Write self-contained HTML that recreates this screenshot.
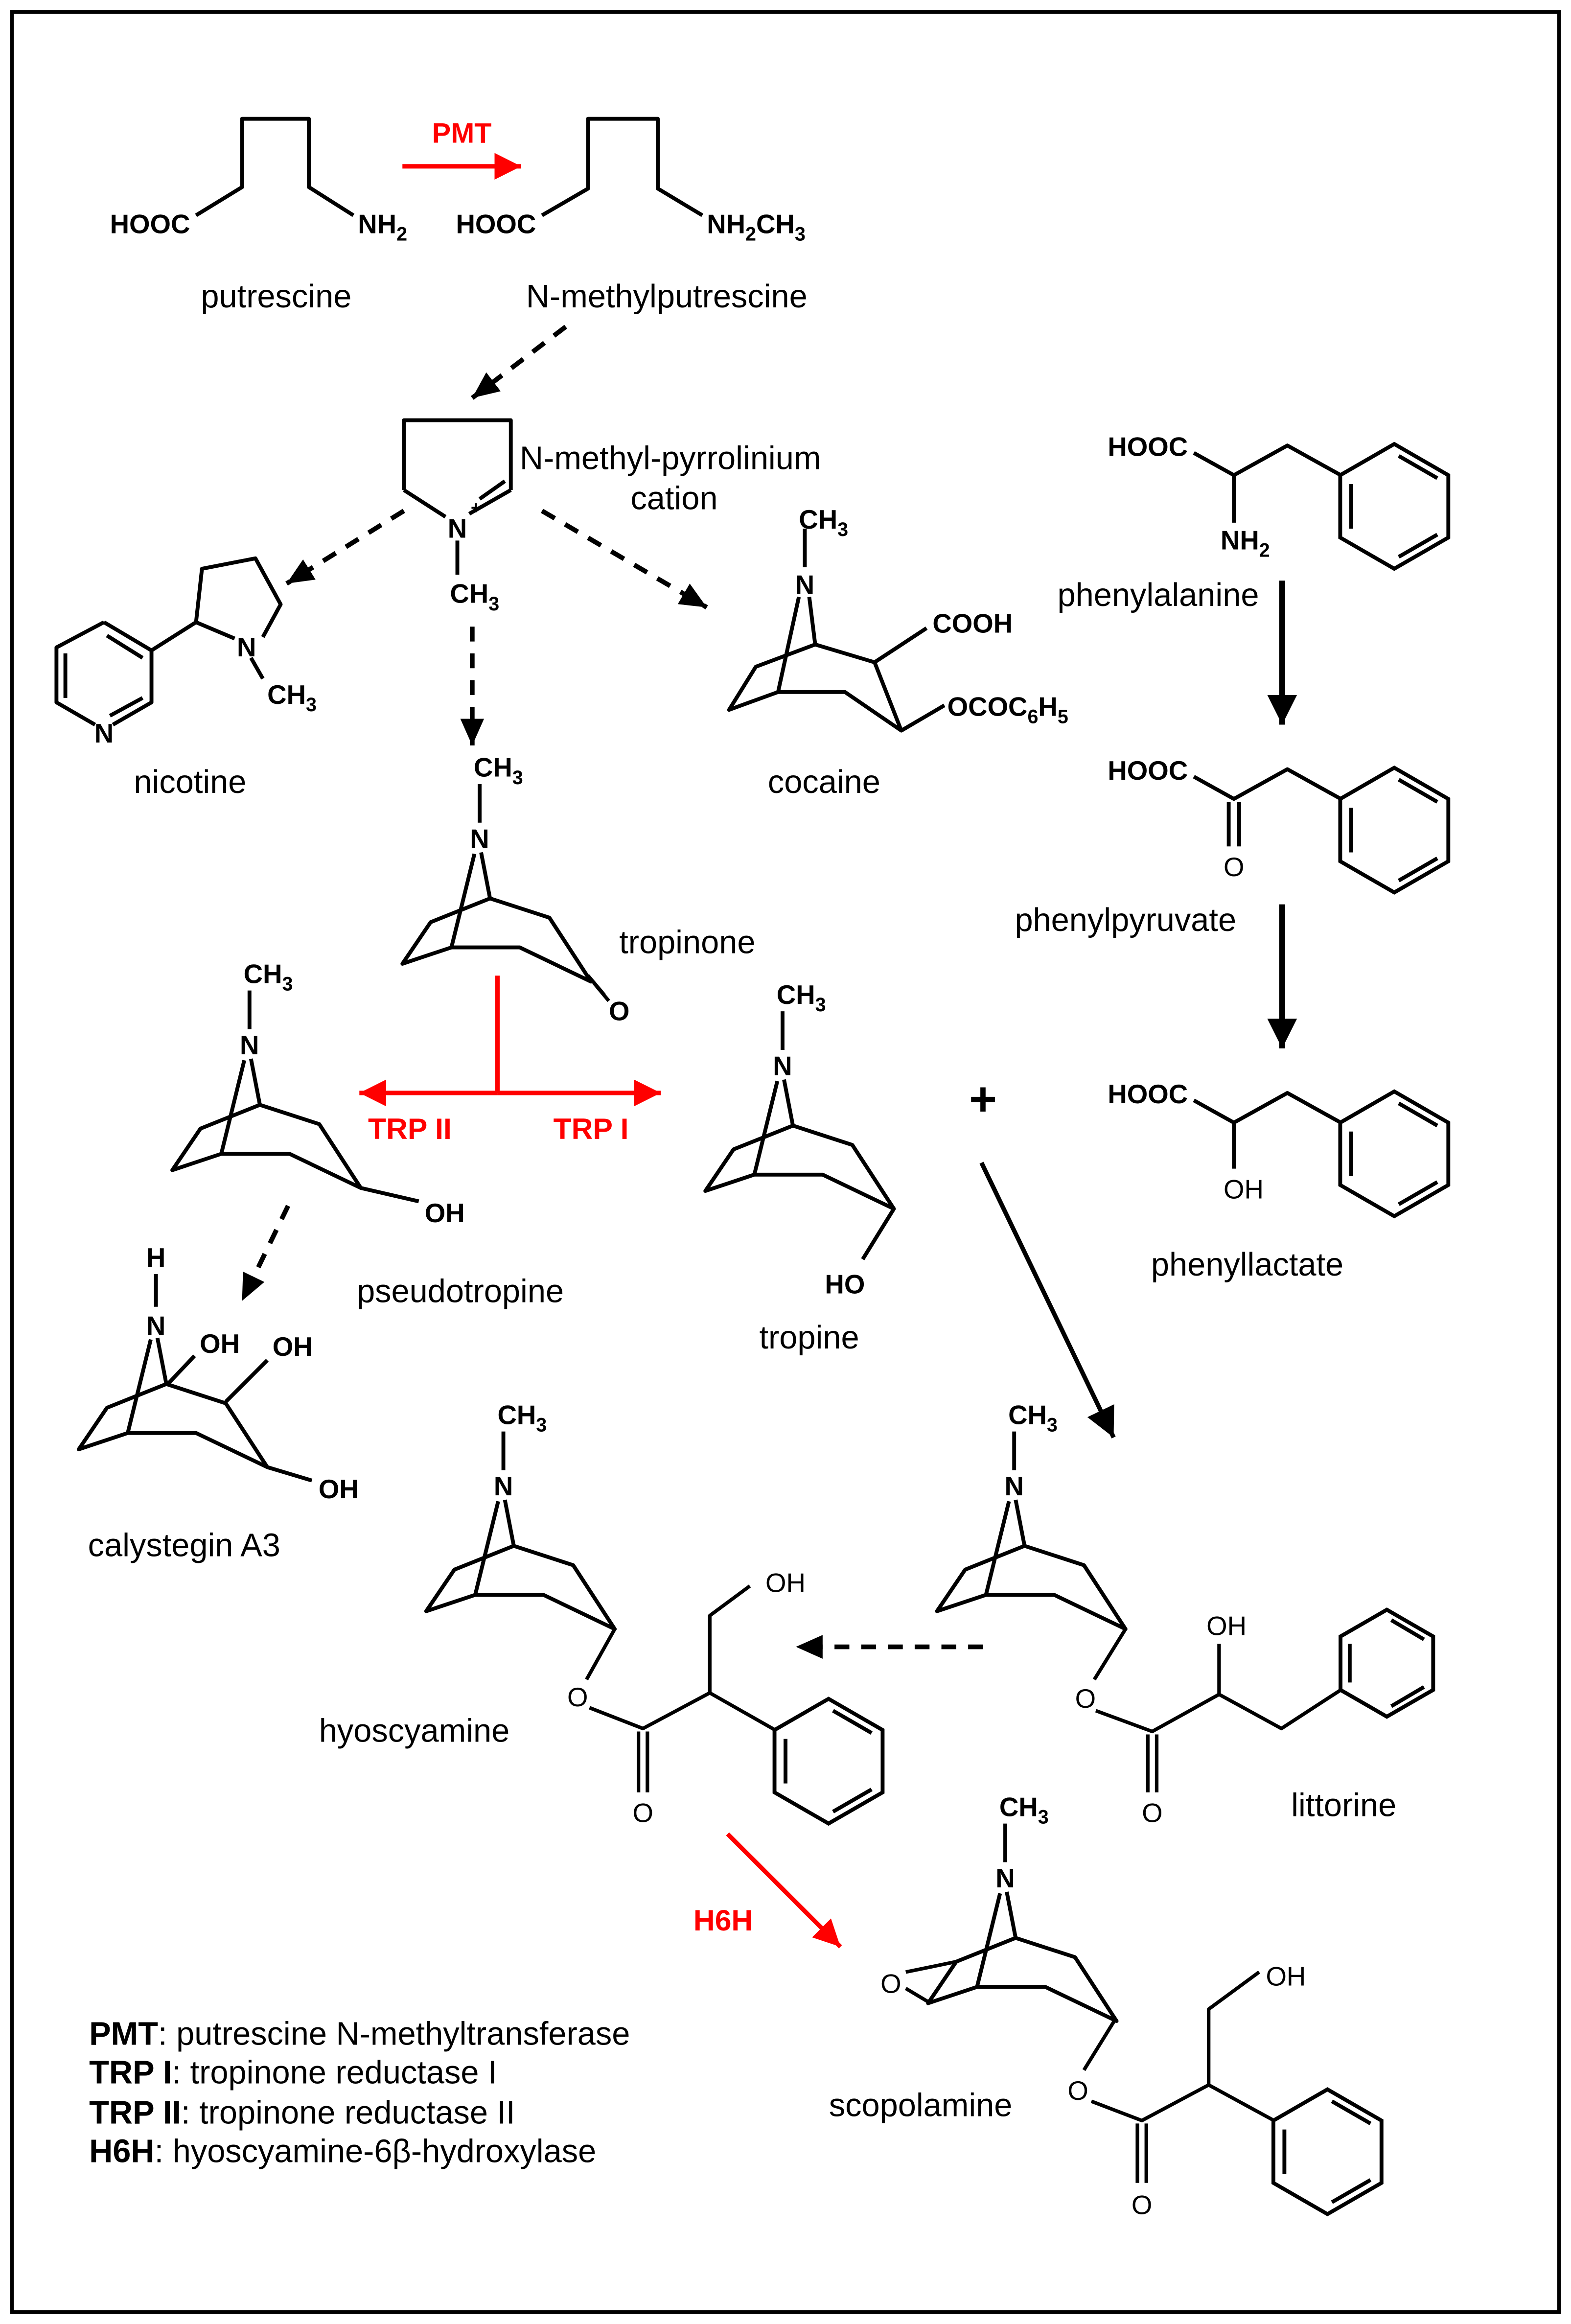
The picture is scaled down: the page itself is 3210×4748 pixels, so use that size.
<!DOCTYPE html>
<html><head><meta charset="utf-8"><style>
html,body{margin:0;padding:0;background:#fff;}
svg{display:block;}
text{font-family:"Liberation Sans",Arial,sans-serif;}
.a{font-weight:bold;font-size:18px;}
.l{font-size:22px;}
.g{font-size:22px;}
</style></head><body>
<svg width="3210" height="4748" viewBox="0 0 1058 1565" xmlns="http://www.w3.org/2000/svg">
<defs>
<marker id="ah" markerUnits="userSpaceOnUse" markerWidth="20" markerHeight="16" refX="18" refY="8" orient="auto"><path d="M0,0 L18,8 L0,16 z" fill="#000"/></marker>
<marker id="ahb" markerUnits="userSpaceOnUse" markerWidth="22" markerHeight="20" refX="20" refY="10" orient="auto"><path d="M0,0 L20,10 L0,20 z" fill="#000"/></marker>
<marker id="ahr" markerUnits="userSpaceOnUse" markerWidth="20" markerHeight="18" refX="18" refY="9" orient="auto"><path d="M0,0 L18,9 L0,18 z" fill="#f00"/></marker>
<g id="b42" fill="none" stroke="#000" stroke-width="2.6"><path d="M0,-42 L36.4,-21 L36.4,21 L0,42 L-36.4,21 L-36.4,-21 Z"/><path d="M3,-34 L29,-19 M-29,-15 L-29,15 M3,34 L29,19"/></g>
<g id="b36" fill="none" stroke="#000" stroke-width="2.6"><path d="M0,-36 L31.2,-18 L31.2,18 L0,36 L-31.2,18 L-31.2,-18 Z"/><path d="M3,-29 L25,-16 M-25,-13 L-25,13 M3,29 L25,16"/></g>
<g id="tr" fill="none" stroke="#000" stroke-width="2.6" stroke-linejoin="round"><path d="M-3.5,10 L-19,73 M1,9 L7,40 L-33,56 L-52,84 L-19,73 L27,73 L75,96 L47,53 L7,40"/></g>
<g id="trme"><use href="#tr"/><path d="M0,-11 L0,-37" stroke="#000" stroke-width="2.6"/><text class="a" x="0" y="6" text-anchor="middle">N</text><text class="a" x="-4" y="-42">CH<tspan font-size="13" dy="5">3</tspan></text></g>
</defs>
<rect x="8" y="8" width="1042" height="1549" fill="none" stroke="#000" stroke-width="2.5"/>
<g fill="none" stroke="#000" stroke-width="2.6" stroke-linejoin="round">
<path d="M132,145 L163,126 L163,80 L208,80 L208,126 L238,145"/>
<path d="M365,145 L396,127 L396,80 L443,80 L443,127 L473,145"/>
</g>
<text class="a" x="101" y="157" text-anchor="middle">HOOC</text>
<text class="a" x="241" y="157">NH<tspan font-size="13" dy="5">2</tspan></text>
<text class="a" x="334" y="157" text-anchor="middle">HOOC</text>
<text class="a" x="476" y="157">NH<tspan font-size="13" dy="5">2</tspan><tspan dy="-5">CH</tspan><tspan font-size="13" dy="5">3</tspan></text>
<line x1="271" y1="112" x2="351" y2="112" stroke="#f00" stroke-width="3" marker-end="url(#ahr)"/>
<text x="311" y="96" text-anchor="middle" font-weight="bold" font-size="19" fill="#f00">PMT</text>
<text class="l" x="186" y="207" text-anchor="middle">putrescine</text>
<text class="l" x="449" y="207" text-anchor="middle">N-methylputrescine</text>
<g stroke="#000" stroke-width="3.2" stroke-dasharray="10,8" fill="none">
<line x1="381" y1="220" x2="318" y2="268" marker-end="url(#ah)"/>
<line x1="272" y1="344" x2="193" y2="393" marker-end="url(#ah)"/>
<line x1="318" y1="422" x2="318" y2="502" marker-end="url(#ah)"/>
<line x1="365" y1="344" x2="476" y2="409" marker-end="url(#ah)"/>
<line x1="194" y1="812" x2="163" y2="876" marker-end="url(#ah)"/>
<line x1="662" y1="1109" x2="536" y2="1109" marker-end="url(#ah)"/>
</g>
<g fill="none" stroke="#000" stroke-width="2.6" stroke-linejoin="round">
<path d="M272,330 L272,283 L344,283 L344,330 M272,330 L300,348 M344,330 L316,346 M340,324 L323,336 M308,364 L308,387"/>
</g>
<text class="a" x="308" y="362" text-anchor="middle">N</text>
<text x="317" y="346" font-size="12" font-weight="bold">+</text>
<text class="a" x="303" y="406">CH<tspan font-size="13" dy="5">3</tspan></text>
<text class="l" x="350" y="316">N-methyl-pyrrolinium</text>
<text class="l" x="454" y="343" text-anchor="middle">cation</text>
<g fill="none" stroke="#000" stroke-width="2.6" stroke-linejoin="round">
<path d="M70,419 L102,438 L102,473 L76,488 M64,488 L38,473 L38,436 L70,419"/>
<path d="M72,428 L96,443 M44,440 L44,470 M96,470 L74,482"/>
<path d="M102,438 L132,419 L136,383 L172,376 L189,407 L177,429 M132,419 L158,430 M169,443 L177,457"/>
</g>
<text class="a" x="70" y="500" text-anchor="middle">N</text>
<text class="a" x="166" y="442" text-anchor="middle">N</text>
<text class="a" x="180" y="474">CH<tspan font-size="13" dy="5">3</tspan></text>
<text class="l" x="128" y="534" text-anchor="middle">nicotine</text>
<g fill="none" stroke="#000" stroke-width="2.6" stroke-linejoin="round">
<path d="M538,402 L524,466 M545,402 L549,434 L509,449 L491,478 L524,466 L569,466 L607,492 L589,446 L549,434 M589,446 L624,423 M607,492 L636,475 M542,356 L542,382"/>
</g>
<text class="a" x="542" y="400" text-anchor="middle">N</text>
<text class="a" x="538" y="356">CH<tspan font-size="13" dy="5">3</tspan></text>
<text class="a" x="628" y="426">COOH</text>
<text class="a" x="638" y="482">OCOC<tspan font-size="13" dy="5">6</tspan><tspan dy="-5">H</tspan><tspan font-size="13" dy="5">5</tspan></text>
<text class="l" x="555" y="534" text-anchor="middle">cocaine</text>
<use href="#trme" x="323" y="565"/>
<path d="M396,657 L407,670 M400,662 L410,674" stroke="#000" stroke-width="2.4"/>
<text class="a" x="417" y="687" text-anchor="middle">O</text>
<text class="l" x="417" y="642">tropinone</text>
<g stroke="#f00" stroke-width="3" fill="none">
<line x1="335" y1="657" x2="335" y2="736"/>
<line x1="335" y1="736" x2="242" y2="736" marker-end="url(#ahr)"/>
<line x1="335" y1="736" x2="445" y2="736" marker-end="url(#ahr)"/>
</g>
<text x="276" y="767" text-anchor="middle" font-weight="bold" font-size="20" fill="#f00">TRP II</text>
<text x="398" y="767" text-anchor="middle" font-weight="bold" font-size="20" fill="#f00">TRP I</text>
<use href="#trme" x="168" y="704"/>
<path d="M243,800 L282,809" stroke="#000" stroke-width="2.6"/>
<text class="a" x="286" y="823">OH</text>
<text class="l" x="310" y="877" text-anchor="middle">pseudotropine</text>
<use href="#trme" x="527" y="718"/>
<path d="M602,814 L581,848" stroke="#000" stroke-width="2.6"/>
<text class="a" x="569" y="871" text-anchor="middle">HO</text>
<text class="l" x="545" y="908" text-anchor="middle">tropine</text>
<text x="662" y="751" text-anchor="middle" font-size="32" font-weight="bold">+</text>
<use href="#tr" x="105" y="892"/>
<path d="M105,858 L105,880 M113,932 L131,913 M152,944 L180,916 M180,988 L210,997" stroke="#000" stroke-width="2.6"/>
<text class="a" x="105" y="899" text-anchor="middle">N</text>
<text class="a" x="105" y="853" text-anchor="middle">H</text>
<text class="a" x="148" y="911" text-anchor="middle">OH</text>
<text class="a" x="197" y="913" text-anchor="middle">OH</text>
<text class="a" x="228" y="1009" text-anchor="middle">OH</text>
<text class="l" x="124" y="1048" text-anchor="middle">calystegin A3</text>
<g fill="none" stroke="#000" stroke-width="2.6" stroke-linejoin="round">
<path d="M804,305 L831,320 L867,300 L903,320 M831,320 L831,352"/>
<path d="M804,523 L831,538 L867,518 L903,538 M827.5,540 L827.5,570 M834.5,540 L834.5,570"/>
<path d="M804,741 L831,756 L867,736 L903,756 M831,756 L831,787"/>
</g>
<use href="#b42" x="939" y="341"/><use href="#b42" x="939" y="559"/><use href="#b42" x="939" y="777"/>
<text class="a" x="773" y="307" text-anchor="middle">HOOC</text>
<text class="a" x="822" y="370">NH<tspan font-size="13" dy="5">2</tspan></text>
<text class="a" x="773" y="525" text-anchor="middle">HOOC</text>
<text x="831" y="590" text-anchor="middle" font-size="18">O</text>
<text class="a" x="773" y="743" text-anchor="middle">HOOC</text>
<text x="824" y="807" font-size="18">OH</text>
<text class="l" x="780" y="408" text-anchor="middle">phenylalanine</text>
<text class="l" x="758" y="627" text-anchor="middle">phenylpyruvate</text>
<text class="l" x="840" y="859" text-anchor="middle">phenyllactate</text>
<line x1="863.5" y1="391" x2="863.5" y2="488" stroke="#000" stroke-width="4" marker-end="url(#ahb)"/>
<line x1="863.5" y1="609" x2="863.5" y2="706" stroke="#000" stroke-width="4" marker-end="url(#ahb)"/>
<line x1="661" y1="783" x2="750" y2="968" stroke="#000" stroke-width="3" marker-end="url(#ahb)"/>
<use href="#trme" x="683" y="1001"/>
<g fill="none" stroke="#000" stroke-width="2.4" stroke-linejoin="round">
<path d="M758,1097 L737,1131 M738,1152 L776,1166 L821,1141 L863,1164 L903,1138 M821,1141 L821,1107 M773,1168 L773,1207 M779,1168 L779,1207"/>
</g>
<use href="#b36" x="934" y="1120"/>
<text x="731" y="1150" text-anchor="middle" font-size="18">O</text>
<text x="776" y="1227" text-anchor="middle" font-size="18">O</text>
<text x="826" y="1101" text-anchor="middle" font-size="18">OH</text>
<text class="l" x="905" y="1223" text-anchor="middle">littorine</text>
<use href="#trme" x="339" y="1001"/>
<g fill="none" stroke="#000" stroke-width="2.4" stroke-linejoin="round">
<path d="M414,1097 L395,1131 M397,1150 L433,1164 L478,1140 L522,1165 M478,1140 L478,1088 L505,1068 M430,1166 L430,1207 M436,1166 L436,1207"/>
</g>
<use href="#b42" x="558" y="1186"/>
<text x="389" y="1149" text-anchor="middle" font-size="18">O</text>
<text x="433" y="1227" text-anchor="middle" font-size="18">O</text>
<text x="529" y="1072" text-anchor="middle" font-size="18">OH</text>
<text class="l" x="279" y="1173" text-anchor="middle">hyoscyamine</text>
<line x1="490" y1="1235" x2="566" y2="1311" stroke="#f00" stroke-width="3" marker-end="url(#ahr)"/>
<text x="487" y="1300" text-anchor="middle" font-weight="bold" font-size="20" fill="#f00">H6H</text>
<use href="#trme" x="677" y="1265"/>
<g fill="none" stroke="#000" stroke-width="2.4" stroke-linejoin="round">
<path d="M610,1328 L644,1321 M610,1339 L625,1348"/>
<path d="M751,1360 L730,1394 M735,1415 L769,1428 L814,1404 L858,1428 M814,1404 L814,1353 L848,1328 M766,1430 L766,1470 M772,1430 L772,1470"/>
</g>
<use href="#b42" x="894" y="1449"/>
<text x="600" y="1342" text-anchor="middle" font-size="18">O</text>
<text x="726" y="1414" text-anchor="middle" font-size="18">O</text>
<text x="769" y="1491" text-anchor="middle" font-size="18">O</text>
<text x="866" y="1337" text-anchor="middle" font-size="18">OH</text>
<text class="l" x="620" y="1425" text-anchor="middle">scopolamine</text>
<text class="g" x="60" y="1377"><tspan font-weight="bold">PMT</tspan>: putrescine N-methyltransferase</text>
<text class="g" x="60" y="1403"><tspan font-weight="bold">TRP I</tspan>: tropinone reductase I</text>
<text class="g" x="60" y="1430"><tspan font-weight="bold">TRP II</tspan>: tropinone reductase II</text>
<text class="g" x="60" y="1456"><tspan font-weight="bold">H6H</tspan>: hyoscyamine-6&#946;-hydroxylase</text>
</svg>
</body></html>
